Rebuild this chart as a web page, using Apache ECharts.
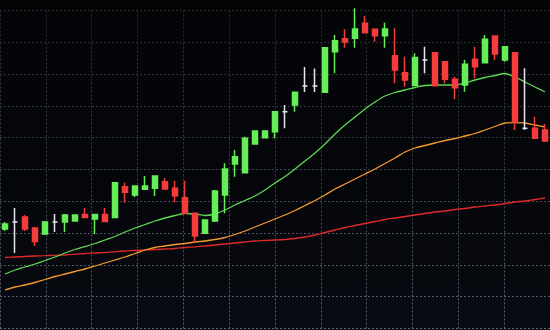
<!DOCTYPE html>
<html><head><meta charset="utf-8">
<script src="https://cdn.jsdelivr.net/npm/echarts@6/dist/echarts.min.js"></script>
<style>html,body{margin:0;padding:0;background:#05060a}#c{width:550px;height:330px;background:linear-gradient(#040507 0%,#05060a 55%,#080b12 100%)}</style>
</head><body><div id="c"></div>
<script>
// Candles (price units; no labels shown in the original)
const categories = Array.from({length: 55}, (_, i) => 'D' + (i + 1));
const opens  = [101,108,113,102,96,108,108,109,115.5,111,115.5,112.5,143.3,135,140.7,141.7,148.3,141.7,132.3,116.7,96.7,109,135,166,157.3,186,192.3,198.3,218.3,225,244,244,237.7,278.3,291.3,291.7,306.7,300.7,294.3,274.3,257.3,244.5,270,277.3,268.3,250.7,245,270.7,267.3,294,270,277.3,201.7,201.7,200];
const closes = [106,108,101,88.5,108,108,115,115,112.5,115.5,108.5,147.3,137.7,144,144,154,141,134.3,116.7,94,110,139,161,173.3,191.7,199,199,218.3,218.3,237.7,244,244,282.3,289.3,288,301,297.3,294.3,301,260,250,272.5,270,244.3,250.7,242.3,265.7,263.3,290.7,276,283.3,208.3,201.7,191.7,189];
const lows   = [99,77,99,84,95,98,98,108.5,112,96,108,112,127.3,133,140.5,134,140.5,127.7,116,86.7,96,108,116.7,153.3,157,185.5,192,191.7,201.7,218.3,238,238,237,256.7,282.3,282.3,297,288.3,282.3,246.7,243.3,244,256.7,244,246.7,231,238.3,251.7,267,270,268.3,200,200,191,188];
const highs  = [108,122,115,103,109,116,116,115.5,122,116,122,148,147.3,144.5,154,154.5,152,149.3,149.3,117.5,110.5,140,166.7,180,193.3,199.5,199.5,219,225,238,263,261.5,283,295,300.7,321.7,314,301,307.3,301.7,273.3,276.7,283.3,278,269,253.3,270,283.3,295,294.5,284,278,261.7,213.3,206];
// Moving averages
const maFast = [56,60,63,66,69.5,73,77,80.5,83.3,86.5,90,93.5,98,102,105.5,109,112,114.5,116.5,116,114.5,116,120,125,129.5,134,140,147,153.5,161,169,177,186,196,205,213,221,228,234,237.5,240,242.5,244.5,245,245,245,247,250,252.5,254.5,256.5,253,248,243,238];
const maMid  = [40,43,45,47.5,50.5,53.5,56,58.5,61,64,67,70,73,76.5,80,82.5,84,85.5,86.5,88,89,90.5,92.5,95.5,99,103,107,111,115,119.5,124.5,129.5,135,141,146,151,156,161,166.5,172,178,182,184.5,187,189.5,191.5,194,196.5,200,203.5,207,207.3,207,205,203];
const maSlow = [72.5,73,73.5,74,74.3,74.7,75,75.7,76.5,77,77.5,78.2,79,79.5,80,80.5,81,81.5,82.5,83.2,84,85,86,87,88,89,89.5,90,90.5,91.5,93,95,97.5,100,102.5,104.5,106.5,108.5,110.5,112,113.5,115,116.5,118,119,120.5,121.5,123,124,125,126.5,128,129,130.5,132];

const UP = '#66ee58', DOWN = '#f43c3c', DOJI = '#e6e8ee';
const dojiStyle = {color: DOJI, color0: DOJI, borderColor: DOJI, borderColor0: DOJI, borderColorDoji: DOJI};
const candleData = categories.map((c, i) => {
  const v = [opens[i], closes[i], lows[i], highs[i]];
  return opens[i] === closes[i] ? {value: v, itemStyle: dojiStyle} : v;
});

// grid lines: fainter near the top, brighter toward the bottom
const hLineColors = ['#5c6672','#56606b','#505963','#4a525c','#444b54','#3e444c','#383e45','#33383e','#2e3238','#2a2e33','#272a2f'];
const vLineColor = new echarts.graphic.LinearGradient(0, 0, 0, 330, [
  {offset: 0, color: '#262a2f'}, {offset: 0.5, color: '#3a4048'}, {offset: 1, color: '#5c6672'}
], true);
const hidden = {axisLine: {show: false}, axisTick: {show: false}, axisLabel: {show: false}};

const chart = echarts.init(document.getElementById('c'), null, {renderer: 'canvas'});
chart.setOption({
  backgroundColor: 'transparent',
  animation: false,
  grid: [
    {left: -7.1, right: -7.7, top: 0, bottom: 0},
    {left: -21.05, right: -13.95, top: 10.5, bottom: 1.5}
  ],
  xAxis: [
    {type: 'category', data: categories, gridIndex: 0, show: false, boundaryGap: true},
    Object.assign({type: 'value', gridIndex: 1, min: 0, max: 12, interval: 1,
      splitLine: {show: true, lineStyle: {color: vLineColor, width: 1, type: [2, 2]}}}, hidden)
  ],
  yAxis: [
    {type: 'value', gridIndex: 0, min: 0, max: 330, show: false},
    Object.assign({type: 'value', gridIndex: 1, min: 0, max: 10, interval: 1,
      splitLine: {show: true, lineStyle: {color: hLineColors, width: 1, type: [2, 2]}}}, hidden)
  ],
  series: [
    {type: 'line', name: 'MA slow', data: maSlow, xAxisIndex: 0, yAxisIndex: 0, symbol: 'none', smooth: 0.3, z: 2, lineStyle: {color: '#dc2a2c', width: 1.3}},
    {type: 'line', name: 'MA mid', data: maMid, xAxisIndex: 0, yAxisIndex: 0, symbol: 'none', smooth: 0.3, z: 2, lineStyle: {color: '#f59a30', width: 1.3}},
    {type: 'line', name: 'MA fast', data: maFast, xAxisIndex: 0, yAxisIndex: 0, symbol: 'none', smooth: 0.3, z: 2, lineStyle: {color: '#5fd655', width: 1.3}},
    {type: 'candlestick', name: 'Price', data: candleData, xAxisIndex: 0, yAxisIndex: 0, barWidth: 6, z: 3,
     itemStyle: {color: UP, color0: DOWN, borderColor: UP, borderColor0: DOWN, borderColorDoji: DOJI, borderWidth: 1.5}}
  ]
});
</script>
</body></html>
